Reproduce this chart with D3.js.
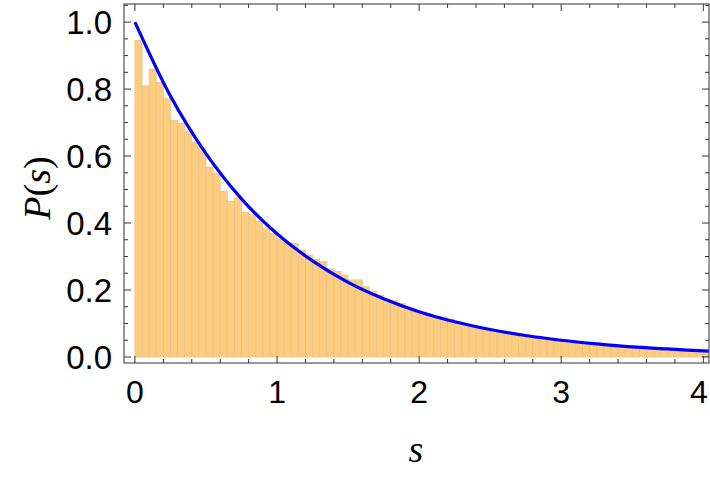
<!DOCTYPE html><html><head><script src="https://cdn.jsdelivr.net/npm/d3@7"></script>
<style>body{margin:0;background:#fff}</style></head><body><svg id="c" width="710" height="479"></svg>
<script>
const binWidth = 0.05;
const barValues = [0.946,0.809,0.860,0.819,0.773,0.706,0.698,0.674,0.641,0.624,0.567,0.548,0.495,0.465,0.475,0.432,0.425,
0.405,0.385,0.368,0.352,0.342,0.339,0.319,0.304,0.292,0.285,0.263,0.255,0.245,0.230,0.230,0.210,0.197,0.185,0.170,0.168,0.160,0.142,0.137,
0.132,0.128,0.121,0.119,0.112,0.100,
0.095,0.090,0.085,0.081,0.077,0.073,0.069,0.066,0.063,0.059,0.056,0.054,0.051,0.049,0.047,0.044,0.042,0.040,0.038,0.036,0.034,0.033,0.031,0.029,
0.028,0.027,0.025,0.024,0.023,0.022,0.021,0.020,0.019,0.018,0.017,0.017];
const binStarts = barValues.map((d,i) => +(i*binWidth).toFixed(2));
const curveS = [0,0.25,0.5,0.75,1,1.25,1.5,1.75,2,2.25,2.5,2.75,3,3.25,3.5,3.75,4,4.1];
const curveP = [1,0.779,0.607,0.472,0.368,0.287,0.223,0.174,0.135,0.105,0.082,0.064,0.050,0.039,0.030,0.024,0.018,0.017];
const xTicks = [0,1,2,3,4];
const yTicks = [0,0.2,0.4,0.6,0.8,1.0];

const svg = d3.select('#c');
const L=124,R=709,T=4,B=363;
const x = d3.scaleLinear().domain([-0.077,4.04]).range([L,R]);
const y = d3.scaleLinear().domain([-0.018,1.054]).range([B,T]);
svg.append('clipPath').attr('id','cp').append('rect').attr('x',L).attr('y',T).attr('width',R-L).attr('height',B-T);
const g = svg.append('g').attr('clip-path','url(#cp)');
g.selectAll('rect.b').data(barValues).join('rect')
 .attr('x',(d,i)=>x(binStarts[i])).attr('width',x(binWidth)-x(0))
 .attr('y',d=>y(d)).attr('height',d=>y(0)-y(d))
 .attr('fill','#fdcd7f').attr('stroke','#e7c38c').attr('stroke-width',0.8);
g.append('path').datum(curveS.map((s,i)=>[s,curveP[i]]))
 .attr('d',d3.line().x(d=>x(d[0])).y(d=>y(d[1])).curve(d3.curveMonotoneX))
 .attr('fill','none').attr('stroke','#0000ff').attr('stroke-width',3.2);
svg.append('rect').attr('x',L).attr('y',T).attr('width',R-L).attr('height',B-T).attr('fill','none').attr('stroke','#555').attr('stroke-width',1.2);
const tk = svg.append('g').attr('stroke','#333').attr('stroke-width',1);
d3.range(0,4.05,0.2).forEach(v=>{const maj=Math.abs(v-Math.round(v))<1e-6;const l=maj?7:4;
 tk.append('line').attr('x1',x(v)).attr('x2',x(v)).attr('y1',B).attr('y2',B-l);
 tk.append('line').attr('x1',x(v)).attr('x2',x(v)).attr('y1',T).attr('y2',T+l);});
d3.range(0,1.051,0.05).forEach(v=>{const maj=Math.abs(v*5-Math.round(v*5))<1e-6;const l=maj?7:4;
 tk.append('line').attr('y1',y(v)).attr('y2',y(v)).attr('x1',L).attr('x2',L+l);
 tk.append('line').attr('y1',y(v)).attr('y2',y(v)).attr('x1',R).attr('x2',R-l);});
const f='Liberation Sans, Arial, sans-serif';
svg.selectAll('text.x').data(xTicks).join('text').attr('x',d=>Math.min(x(d),699)).attr('y',403).attr('text-anchor','middle')
 .attr('font-family',f).attr('font-size',32).text(d=>d);
svg.selectAll('text.y').data(yTicks).join('text').attr('x',112).attr('y',d=>y(d)+12).attr('text-anchor','end')
 .attr('font-family',f).attr('font-size',33).text(d=>d.toFixed(1));
svg.append('text').attr('x',416).attr('y',462).attr('text-anchor','middle').attr('font-family','Liberation Serif, serif')
 .attr('font-style','italic').attr('font-size',38).text('s');
const yl = svg.append('text').attr('transform','translate(50,188) rotate(-90)').attr('text-anchor','middle')
 .attr('font-family','Liberation Serif, serif').attr('font-size',38);
yl.append('tspan').attr('font-style','italic').text('P');
yl.append('tspan').text('(');
yl.append('tspan').attr('font-style','italic').text('s');
yl.append('tspan').text(')');
</script></body></html>
